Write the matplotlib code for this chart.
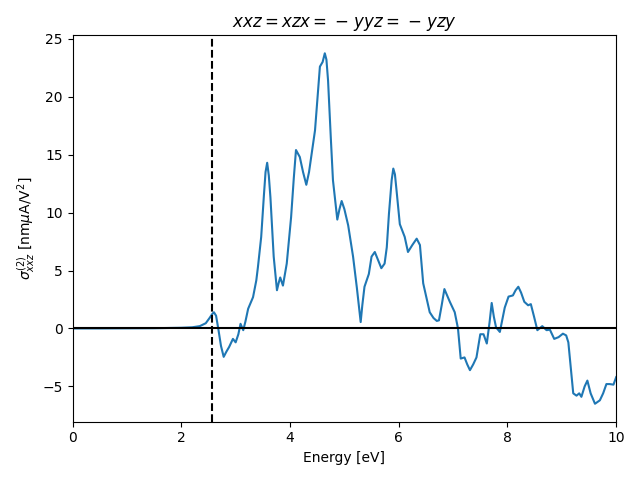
import matplotlib
matplotlib.use("Agg")
import matplotlib.pyplot as plt
import numpy as np

# energy (eV) and sigma values
energy = [0.0, 0.5, 1.0, 1.5, 2.0, 2.2, 2.34, 2.45, 2.52, 2.57, 2.60, 2.64, 2.68,
          2.73, 2.78, 2.83, 2.88, 2.95, 3.0, 3.05, 3.09, 3.14, 3.18, 3.23, 3.32,
          3.38, 3.41, 3.47, 3.52, 3.55, 3.58, 3.61, 3.64, 3.70, 3.76, 3.79, 3.82,
          3.87, 3.94, 4.02, 4.07, 4.11, 4.18, 4.24, 4.30, 4.35, 4.39, 4.46, 4.50,
          4.55, 4.60, 4.64, 4.67, 4.70, 4.75, 4.79, 4.87, 4.91, 4.95, 5.00, 5.07,
          5.16, 5.23, 5.30, 5.33, 5.37, 5.45, 5.50, 5.56, 5.62, 5.68, 5.74, 5.78,
          5.82, 5.87, 5.90, 5.93, 5.96, 6.02, 6.11, 6.17, 6.25, 6.33, 6.39, 6.45,
          6.57, 6.64, 6.70, 6.74, 6.79, 6.84, 6.94, 7.03, 7.09, 7.14, 7.21, 7.26,
          7.31, 7.37, 7.43, 7.50, 7.56, 7.62, 7.67, 7.71, 7.75, 7.79, 7.86, 7.95,
          8.02, 8.10, 8.15, 8.20, 8.25, 8.31, 8.38, 8.43, 8.49, 8.55, 8.64, 8.72,
          8.78, 8.86, 8.94, 9.02, 9.08, 9.12, 9.16, 9.21, 9.27, 9.32, 9.36, 9.42,
          9.47, 9.53, 9.61, 9.70, 9.76, 9.82, 9.88, 9.95, 10.0]
sigma = [0.0, 0.0, 0.01, 0.02, 0.06, 0.1, 0.2, 0.45, 0.9, 1.25, 1.4, 1.1, 0.0,
         -1.5, -2.45, -2.0, -1.6, -0.9, -1.2, -0.5, 0.4, -0.15, 0.6, 1.7, 2.7,
         4.15, 5.3, 7.9, 11.5, 13.5, 14.3, 13.2, 11.3, 6.2, 3.3, 3.9, 4.4,
         3.7, 5.6, 9.6, 13.0, 15.4, 14.8, 13.5, 12.4, 13.5, 14.8, 17.1, 19.5,
         22.6, 23.0, 23.75, 23.2, 21.4, 16.5, 12.8, 9.4, 10.3, 11.0, 10.3, 8.9,
         6.2, 3.5, 0.55, 2.0, 3.6, 4.7, 6.2, 6.6, 5.9, 5.2, 5.6, 7.0,
         9.9, 12.8, 13.8, 13.3, 11.9, 9.0, 7.9, 6.6, 7.2, 7.75, 7.2, 3.9,
         1.4, 0.9, 0.65, 0.7, 2.0, 3.4, 2.3, 1.4, 0.0, -2.6, -2.5, -3.1,
         -3.6, -3.1, -2.5, -0.5, -0.5, -1.3, 0.5, 2.2, 1.0, 0.1, -0.3, 1.8,
         2.75, 2.85, 3.3, 3.6, 3.1, 2.3, 2.0, 2.1, 1.0, -0.15, 0.2, -0.15,
         -0.1, -0.9, -0.75, -0.45, -0.6, -1.2, -3.2, -5.6, -5.8, -5.6, -5.9, -5.0,
         -4.5, -5.6, -6.5, -6.2, -5.6, -4.8, -4.8, -4.85, -4.2]

gap = 2.57
title = r'$xxz = xzx = \hspace{0.1}-\hspace{0.1}yyz = \hspace{0.1}-\hspace{0.1}yzy$'

fig, ax = plt.subplots(figsize=(6.4, 4.8), dpi=100)
ax.plot(energy, sigma, color='C0', lw=1.5)
ax.axhline(0, color='black', lw=1.5)
ax.axvline(gap, color='black', ls='--', lw=1.5)

ax.set_xlim(0, 10)
ax.set_ylim(-8.05, 25.3)
ax.set_xlabel('Energy [eV]')
ax.set_ylabel(r'$\sigma^{(2)}_{xxz}$ [nm$\mu$A/V$^2$]')
ax.set_title(title)

fig.tight_layout()
fig.savefig('out.png')
